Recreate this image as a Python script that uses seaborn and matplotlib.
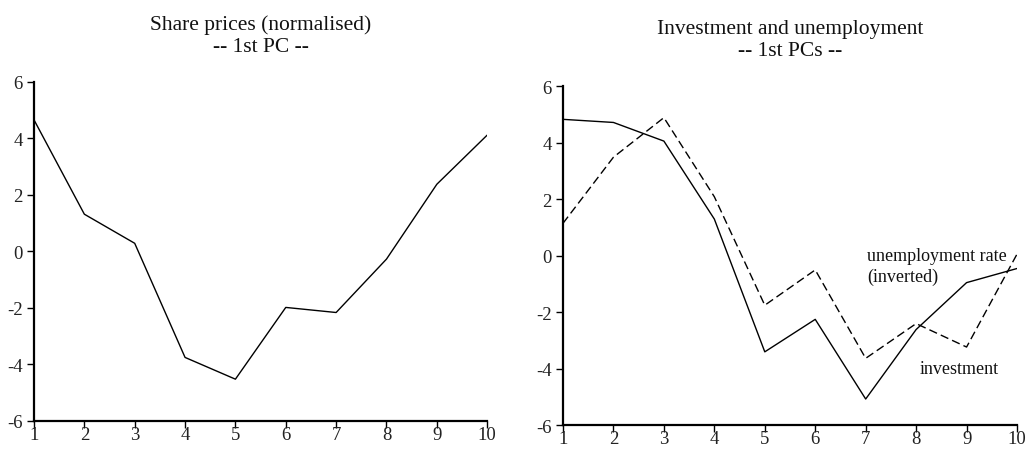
"""Principal components of share prices, investment and unemployment."""

import matplotlib.pyplot as plt
import matplotlib.ticker as mticker
import pandas as pd
import seaborn as sns

PERIODS = [1, 2, 3, 4, 5, 6, 7, 8, 9, 10]
SHARE_PC = [4.66, 1.32, 0.29, -3.75, -4.52, -1.98, -2.16, -0.27, 2.38, 4.12]
INVESTMENT_PC = [4.82, 4.71, 4.05, 1.29, -3.41, -2.26, -5.08, -2.62, -0.96, -0.46]
UNEMPLOYMENT_PC = [1.14, 3.48, 4.88, 2.08, -1.76, -0.51, -3.64, -2.41, -3.24, 0.05]
Y_TICKS = [-6, -4, -2, 0, 2, 4, 6]

sns.set_style("ticks")
plt.rcParams["font.family"] = ["Liberation Serif", "DejaVu Serif"]


def style_axis(ax):
    ax.set_xlim(1, 10)
    ax.set_ylim(-6, 6)
    ax.set_xticks(PERIODS)
    ax.set_yticks(Y_TICKS)
    ax.yaxis.set_major_formatter(mticker.FuncFormatter(lambda v, _: f"{v:.0f}"))
    ax.tick_params(axis="both", labelsize=13.5, length=5, width=1, color="black",
                   labelcolor="#222222")
    ax.tick_params(axis="y", pad=3)
    ax.tick_params(axis="x", pad=-1.5)
    for side in ("top", "right"):
        ax.spines[side].set_visible(False)
    for side in ("left", "bottom"):
        ax.spines[side].set_linewidth(1.6)
        ax.spines[side].set_color("black")
    ax.set_xlabel("")
    ax.set_ylabel("")


fig = plt.figure(figsize=(10.3, 4.52), dpi=100)
ax_left = fig.add_axes([0.033, 0.0664, 0.44, 0.75])
ax_right = fig.add_axes([0.5466, 0.0575, 0.4408, 0.75])

share = pd.DataFrame({"period": PERIODS, "value": SHARE_PC})
sns.lineplot(data=share, x="period", y="value", ax=ax_left, color="black", linewidth=1.0)
style_axis(ax_left)
ax_left.set_title("Share prices (normalised)\n-- 1st PC --", fontsize=15.5,
                  pad=22.5, linespacing=1.18, color="#111111")

pcs = pd.DataFrame({
    "period": PERIODS * 2,
    "value": INVESTMENT_PC + UNEMPLOYMENT_PC,
    "series": ["investment"] * 10 + ["unemployment rate (inverted)"] * 10,
})
sns.lineplot(data=pcs, x="period", y="value", style="series", ax=ax_right,
             color="black", linewidth=1.0,
             dashes={"investment": "", "unemployment rate (inverted)": (6, 3)},
             legend=False)
style_axis(ax_right)
ax_right.set_title("Investment and unemployment\n-- 1st PCs --", fontsize=15.5,
                   pad=22.5, linespacing=1.18, color="#111111")
ax_right.text(7.03, 0.3, "unemployment rate\n(inverted)", fontsize=13,
              va="top", ha="left", linespacing=1.25, color="#111111")
ax_right.text(8.08, -4.0, "investment", fontsize=13, va="center", ha="left",
              color="#111111")

fig.savefig("out.png", dpi=100)
